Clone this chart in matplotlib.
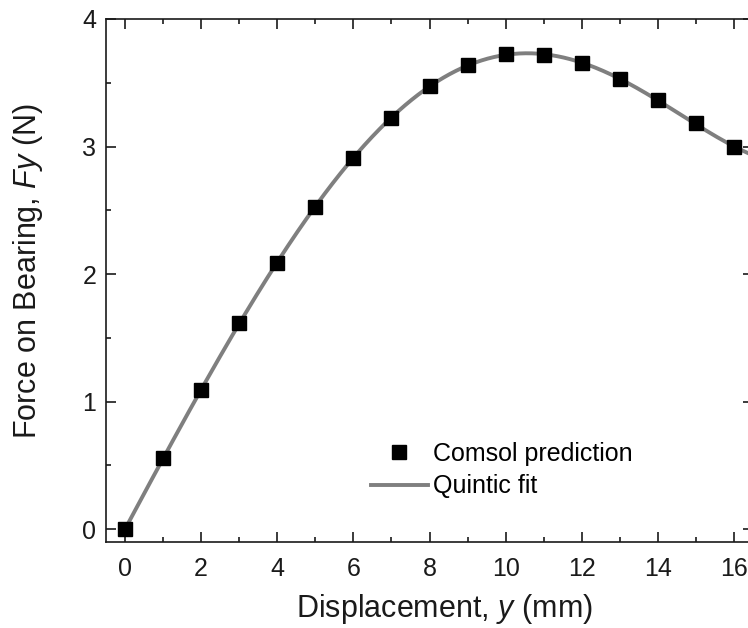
import numpy as np
import matplotlib
matplotlib.use("Agg")
import matplotlib.pyplot as plt
from matplotlib.ticker import MultipleLocator

plt.rcParams['font.family'] = ['Liberation Sans', 'DejaVu Sans']
plt.rcParams['mathtext.fontset'] = 'custom'
plt.rcParams['mathtext.rm'] = 'Liberation Sans'
plt.rcParams['mathtext.it'] = 'Liberation Sans:italic'

displacement = [0, 1, 2, 3, 4, 5, 6, 7, 8, 9, 10, 11, 12, 13, 14, 15, 16]
force = [0.0, 0.555, 1.094, 1.617, 2.09, 2.528, 2.911, 3.223, 3.477, 3.64,
         3.724, 3.719, 3.653, 3.528, 3.362, 3.184, 2.997]
x_ticks = [0, 2, 4, 6, 8, 10, 12, 14, 16]
y_ticks = [0, 1, 2, 3, 4]

fig = plt.figure(figsize=(7.48, 6.28), dpi=100)
ax = fig.add_axes([106/748, 1-542/628, (753-106)/748, (542-19)/628])

coef = np.polyfit(displacement, force, 5)
xf = np.linspace(0, 16.6, 400)
ax.plot(xf, np.polyval(coef, xf), color='#7f7f7f', lw=2.8, label='Quintic fit', zorder=2)
ax.plot(displacement, force, 's', color='black', ms=10.5, label='Comsol prediction', zorder=3)

ax.set_xlim(-0.5, 16.5)
ax.set_ylim(-0.1, 4.0)
ax.set_xticks(x_ticks)
ax.set_yticks(y_ticks)
ax.xaxis.set_minor_locator(MultipleLocator(1))
ax.yaxis.set_minor_locator(MultipleLocator(0.5))
ax.tick_params(which='both', direction='in', top=True, right=True, width=1.2, labelsize=18, colors='#1a1a1a')
ax.tick_params(which='major', length=7)
ax.tick_params(axis='x', which='major', pad=11)
ax.tick_params(axis='y', which='major', pad=7)
ax.tick_params(which='minor', length=3.5)
for s in ax.spines.values():
    s.set_linewidth(1.2)
    s.set_color('#1a1a1a')

ax.set_xlabel('Displacement, $y$ (mm)', fontsize=22, color='#1a1a1a')
ax.set_ylabel('Force on Bearing, $Fy$ (N)', fontsize=22, color='#1a1a1a')
ax.xaxis.set_label_coords(0.5235, -0.095)
ax.yaxis.set_label_coords(-0.094, 0.518)

handles, labels = ax.get_legend_handles_labels()
leg = ax.legend(handles[::-1], labels[::-1], loc='upper left', bbox_to_anchor=(358/748, 1-429/628),
                bbox_transform=fig.transFigure, frameon=False, fontsize=18,
                handlelength=2.3, handletextpad=0.2, labelspacing=0.35, borderpad=0)

fig.savefig('out.png', dpi=100)
